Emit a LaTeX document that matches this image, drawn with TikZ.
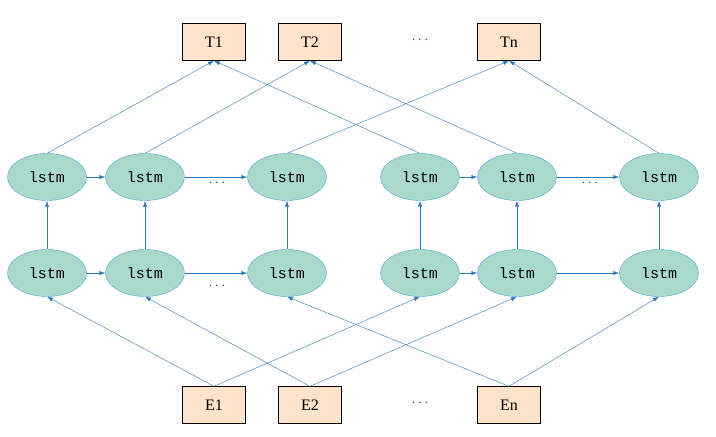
\documentclass[tikz,border=0pt]{standalone}
\usepackage{fontspec}
\setmainfont{Liberation Serif}
\setmonofont{Liberation Mono}
\usetikzlibrary{shapes.geometric, arrows.meta}

\definecolor{cellfill}{HTML}{A9D9CC}
\definecolor{celldraw}{HTML}{4A9FD8}
\definecolor{boxfill}{HTML}{FDE3CA}
\definecolor{arrowcol}{HTML}{2E75B6}

\begin{document}
\begin{tikzpicture}[x=1pt, y=-1pt,
    cell/.style={ellipse, draw=celldraw, fill=cellfill, minimum width=79pt, minimum height=47pt, inner sep=0pt, font=\ttfamily\fontsize{15}{15}\selectfont},
    word/.style={rectangle, draw=black, fill=boxfill, minimum width=63pt, minimum height=37pt, inner sep=0pt, font=\fontsize{16}{16}\selectfont},
    dots/.style={text=arrowcol!60!black, font=\fontsize{14}{14}\selectfont},
    flow/.style={draw=arrowcol, -{Latex[length=6pt, width=4pt]}}]
    \useasboundingbox (0, 0) rectangle (716, 437);

    \node[word] (T1) at (214, 42) {T1};
    \node[word] (T2) at (310, 42) {T2};
    \node[dots] (Tdots) at (420, 40) {$\cdots$};
    \node[word] (Tn) at (509, 42) {Tn};

    \node[cell] (u1) at (47, 177) {lstm};
    \node[cell] (u2) at (145, 177) {lstm};
    \node[cell] (u3) at (287, 177) {lstm};
    \node[cell] (u4) at (420, 177) {lstm};
    \node[cell] (u5) at (517, 177) {lstm};
    \node[cell] (u6) at (659, 177) {lstm};

    \node[cell] (d1) at (47, 273) {lstm};
    \node[cell] (d2) at (145, 273) {lstm};
    \node[cell] (d3) at (287, 273) {lstm};
    \node[cell] (d4) at (420, 273) {lstm};
    \node[cell] (d5) at (517, 273) {lstm};
    \node[cell] (d6) at (659, 273) {lstm};

    \node[dots] (udots1) at (217, 183) {$\cdots$};
    \node[dots] (udots2) at (590, 183) {$\cdots$};
    \node[dots] (ddots1) at (217, 286) {$\cdots$};

    \node[word] (E1) at (214, 405) {E1};
    \node[word] (E2) at (310, 405) {E2};
    \node[dots] (Edots) at (420, 403) {$\cdots$};
    \node[word] (En) at (509, 405) {En};

    % forward links
    \draw[flow] (u1) -- (u2);
    \draw[flow] (u2) -- (u3);
    \draw[flow] (u4) -- (u5);
    \draw[flow] (u5) -- (u6);
    \draw[flow] (d1) -- (d2);
    \draw[flow] (d2) -- (d3);
    \draw[flow] (d4) -- (d5);
    \draw[flow] (d5) -- (d6);

    % lower to upper
    \foreach \i in {1,...,6}
        \draw[flow] (d\i) -- (u\i);

    % inputs
    \draw[flow] (E1.north) -- (d1.south);
    \draw[flow] (E1.north) -- (d4.south);
    \draw[flow] (E2.north) -- (d2.south);
    \draw[flow] (E2.north) -- (d5.south);
    \draw[flow] (En.north) -- (d3.south);
    \draw[flow] (En.north) -- (d6.south);

    % outputs
    \draw[flow] (u1.north) -- (T1.south);
    \draw[flow] (u4.north) -- (T1.south);
    \draw[flow] (u2.north) -- (T2.south);
    \draw[flow] (u5.north) -- (T2.south);
    \draw[flow] (u3.north) -- (Tn.south);
    \draw[flow] (u6.north) -- (Tn.south);
\end{tikzpicture}
\end{document}
